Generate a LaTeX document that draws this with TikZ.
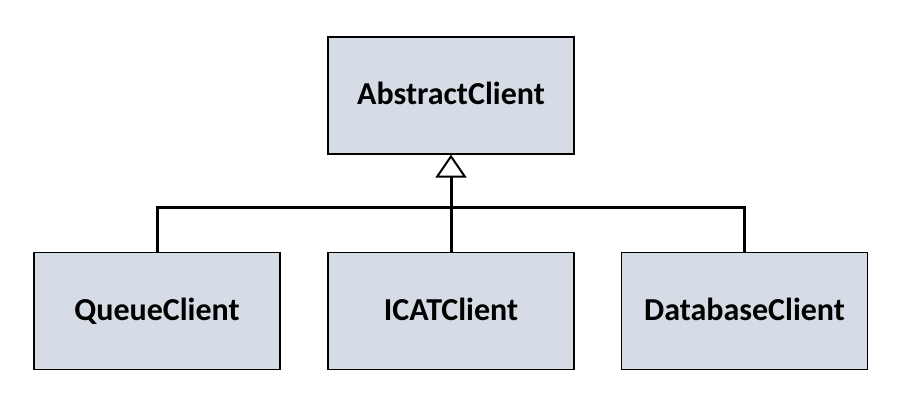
\documentclass[tikz,border=0pt]{standalone}
\usepackage{fontspec}
\setmainfont{Carlito}
\usetikzlibrary{arrows.meta}
\definecolor{boxfill}{HTML}{D6DCE5}
\begin{document}
\begin{tikzpicture}[x=1pt,y=-1pt,
  classbox/.style={draw=black,line width=1.2pt,fill=boxfill,minimum width=246pt,minimum height=117pt,inner sep=0pt,text height=21pt,text depth=2pt,font=\fontsize{32}{38}\selectfont\bfseries},
  link/.style={draw=black,line width=3pt},
  inherit/.style={link,-{Triangle[open,length=23pt,width=31pt,line width=2pt]}}]
\useasboundingbox (0,0) rectangle (897,401);
\node[classbox] (abs) at (451,95.5) {AbstractClient};
\node[classbox] (queue) at (157,311) {QueueClient};
\node[classbox] (icat) at (451,311) {ICATClient};
\node[classbox] (db) at (744.5,311) {DatabaseClient};
\coordinate (j) at (451,207);
\draw[link] (queue.north) |- (j) -| (db.north);
\draw[link] (icat.north) -- (j);
\draw[inherit] (j) -- (abs.south);
\end{tikzpicture}
\end{document}
